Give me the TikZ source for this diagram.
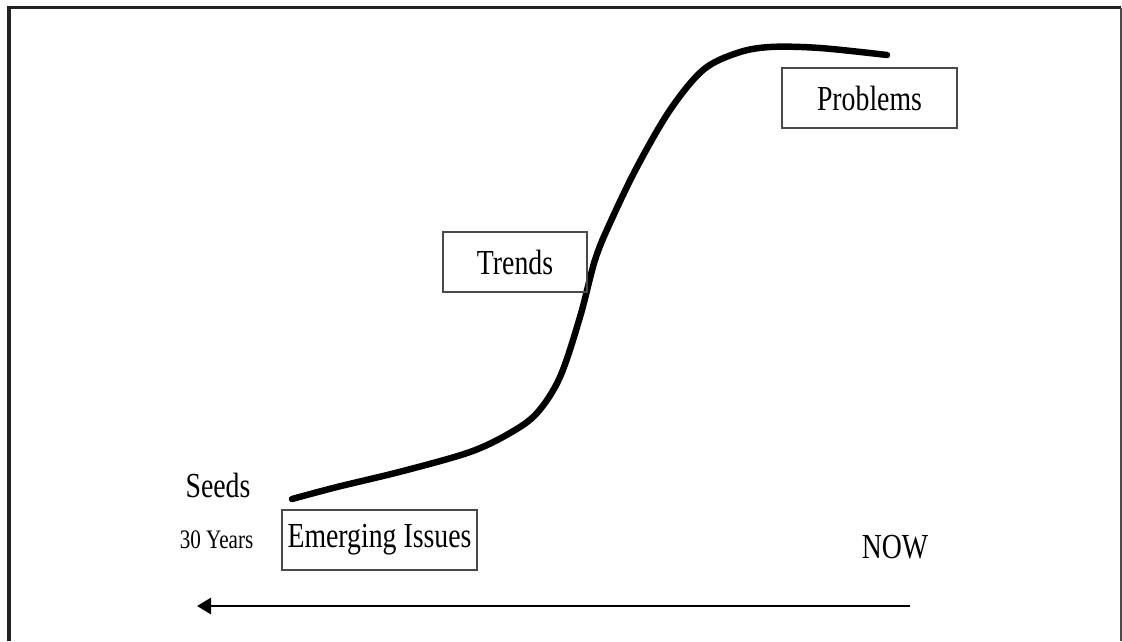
\documentclass[tikz,border=0pt]{standalone}
\usepackage{xcolor}
\usepackage{tikz}
\usepackage{fontspec}
\setmainfont[FakeStretch=0.79]{Liberation Serif}
\usetikzlibrary{arrows.meta, positioning}
\definecolor{framegray}{HTML}{222222}
\definecolor{boxgray}{HTML}{4A4A4A}
\tikzset{
    stagebox/.style={draw=boxgray, line width=1.1pt, inner sep=0pt, minimum height=1.5cm, font=\fontsize{25}{30}\selectfont},
    plainlabel/.style={inner sep=0pt, anchor=base, font=\fontsize{25}{30}\selectfont},
    smalllabel/.style={inner sep=0pt, anchor=base, font=\fontsize{19}{23}\selectfont}
}

\begin{document}
\begin{tikzpicture}[x=0.025cm, y=-0.025cm]
    \useasboundingbox (0,0) rectangle (1122,641);
    % frame (open at the bottom)
    \draw[line width=2.4pt, framegray] (9,641) -- (9,7.5) -- (1121,7.5);
    \draw[line width=1.1pt, boxgray] (1121,7.5) -- (1121,641);

    % the s-curve
    \draw[line width=4.6pt, line cap=round] plot[smooth, tension=0.55] coordinates {
        (292,499) (337,487) (403,471) (470,452) (510,433) (537,413) (560,377)
        (580,317) (595,260) (610,223) (637,167) (670,110) (703,70) (737,53)
        (770,47) (820,48) (887,55)};

    \node[stagebox, minimum width=4.375cm] (problems) at (869.5,98) {Problems};
    \node[stagebox, minimum width=3.6cm] (trends) at (515,262) {Trends};
    \node[stagebox, minimum width=4.875cm] (issues) at (379.5,540) {Emerging Issues};

    \node[plainlabel] (seeds) at (218,497) {Seeds};
    \node[smalllabel] (years) at (216.5,548) {30 Years};
    \node[plainlabel] (now) at (895,558) {NOW};

    \coordinate (timeR) at (910,606);
    \coordinate (timeL) at (197,606);
    \draw[-{Triangle[length=3.5mm, width=4mm]}, line width=2.1pt] (timeR) -- (timeL);
\end{tikzpicture}
\end{document}
